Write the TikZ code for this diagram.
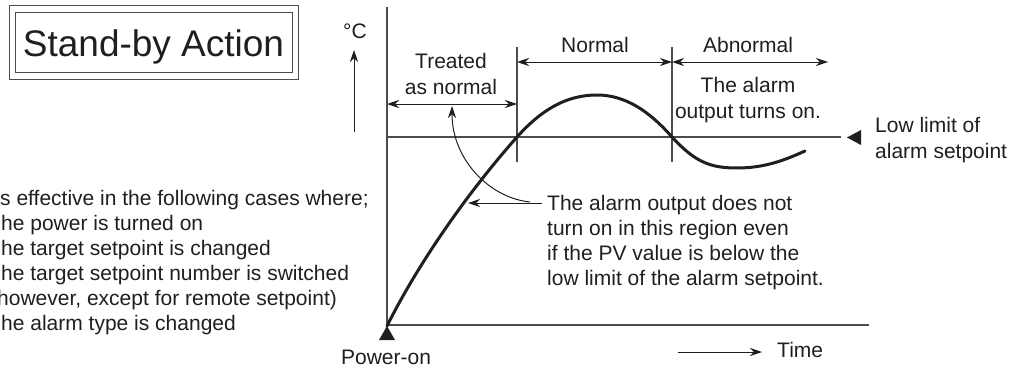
\documentclass[tikz,border=0pt]{standalone}
\usepackage{fontspec}
\setmainfont{Liberation Sans}
\usetikzlibrary{arrows.meta}
\definecolor{ink}{gray}{0.12}
\definecolor{rulec}{gray}{0.30}
\begin{document}
\begin{tikzpicture}[x=1pt,y=-1pt,
  txt/.style={font=\fontsize{21}{25}\selectfont, inner sep=0pt, text=ink},
  ttl/.style={font=\fontsize{37}{40}\selectfont, inner sep=0pt, text=ink},
  axis/.style={draw=rulec, line width=1.1pt},
  frame/.style={draw=rulec, line width=1pt},
  pv/.style={draw=ink, line width=3pt},
  arw/.style={draw=ink, line width=1pt, -{Stealth[length=12pt,width=8pt]}},
  dbl/.style={draw=ink, line width=1pt, {Stealth[length=12pt,width=8pt]}-{Stealth[length=12pt,width=8pt]}},
  solidmark/.style={fill=ink, draw=none}]
\useasboundingbox (0,0) rectangle (1016,372);

% title box
\draw[frame] (9,5) rectangle (298,79);
\draw[frame] (15,12) rectangle (292,72);
\node[ttl, anchor=base] (title) at (153.5,56) {Stand-by Action};

% axes
\coordinate (O) at (387,325);
\coordinate (Ytop) at (387,7);
\coordinate (Xend) at (869,325);
\draw[axis] (Ytop) -- (O) -- (Xend);
\coordinate (SPl) at (387,137);
\coordinate (SPr) at (841,137);
\draw[axis] (SPl) -- (SPr);
\coordinate (K1t) at (517,47); \coordinate (K1b) at (517,162);
\coordinate (K2t) at (672,47); \coordinate (K2b) at (672,162);
\draw[axis] (K1t) -- (K1b);
\draw[axis] (K2t) -- (K2b);

% degree C arrow
\node[txt, anchor=base west] (degC) at (343,38) {°C};
\coordinate (Ub) at (354,132); \coordinate (Ut) at (354,50);
\draw[arw] (Ub) -- (Ut);

% region arrows
\coordinate (TrL) at (387,104); \coordinate (TrR) at (517,104);
\draw[dbl] (TrL) -- (TrR);
\coordinate (NoL) at (517,62); \coordinate (NoR) at (672,62);
\draw[dbl] (NoL) -- (NoR);
\coordinate (AbL) at (672,62); \coordinate (AbR) at (828,62);
\draw[dbl] (AbL) -- (AbR);

\node[txt, anchor=base] (treated1) at (451,68) {Treated};
\node[txt, anchor=base] (treated2) at (451,94) {as normal};
\node[txt, anchor=base] (normal) at (595,52) {Normal};
\node[txt, anchor=base] (abnormal) at (748,52) {Abnormal};
\node[txt, anchor=base] (on1) at (748,92) {The alarm};
\node[txt, anchor=base] (on2) at (748,118) {output turns on.};

% PV curve
\draw[pv, line cap=round] (387,326) .. controls (420,260) and (470,190) .. (517,137)
  .. controls (543,108) and (568,95) .. (597,95)
  .. controls (626,95) and (650,112) .. (672,137)
  .. controls (695,162) and (710,168) .. (737,168)
  .. controls (765,168) and (785,160) .. (805,151);

% low limit marker
\fill[solidmark] (847,137.5) -- (861,130) -- (861,145) -- cycle;
\node[txt, anchor=base west] (low1) at (875,132) {Low limit of};
\node[txt, anchor=base west] (low2) at (875,158) {alarm setpoint};

% annotation
\node[txt, anchor=base west] (n1) at (547,210) {The alarm output does not};
\node[txt, anchor=base west] (n2) at (547,235) {turn on in this region even};
\node[txt, anchor=base west] (n3) at (547,260) {if the PV value is below the};
\node[txt, anchor=base west] (n4) at (547,285) {low limit of the alarm setpoint.};
\coordinate (Ns) at (542,203);
\coordinate (Nc) at (468,203);
\coordinate (Na) at (530,202);
\coordinate (Nt) at (452,106);
\draw[arw] (Ns) -- (Nc);
\draw[arw] (Na) .. controls (490,198) and (452,160) .. (Nt);

% left notes
\node[txt, anchor=base west] (c1) at (0,205) {s effective in the following cases where;};
\node[txt, anchor=base west] (c2) at (1,230) {he power is turned on};
\node[txt, anchor=base west] (c3) at (1,255) {he target setpoint is changed};
\node[txt, anchor=base west] (c4) at (1,280) {he target setpoint number is switched};
\node[txt, anchor=base west] (c5) at (-3,305) {however, except for remote setpoint)};
\node[txt, anchor=base west] (c6) at (1,330) {he alarm type is changed};

% power-on
\fill[solidmark] (387,326) -- (379,340) -- (395,340) -- cycle;
\node[txt, anchor=base] (pon) at (386,364) {Power-on};

% time
\coordinate (Tm1) at (678,352); \coordinate (Tm2) at (762,352);
\draw[arw] (Tm1) -- (Tm2);
\node[txt, anchor=base west] (time) at (777,357) {Time};
\end{tikzpicture}
\end{document}
